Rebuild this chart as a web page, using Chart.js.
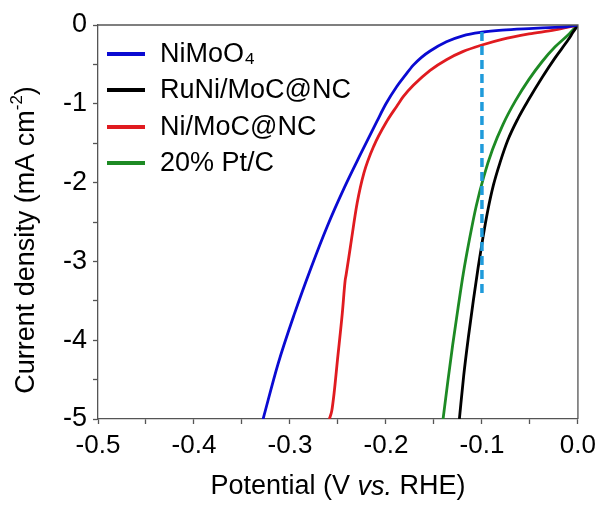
<!DOCTYPE html>
<html>
<head>
<meta charset="utf-8">
<script src="https://cdn.jsdelivr.net/npm/chart.js@4.4.1/dist/chart.umd.min.js"></script>
<style>
  html, body { margin: 0; padding: 0; background: #fff; }
  #wrap { width: 605px; height: 506px; }
</style>
</head>
<body>
<div id="wrap"><canvas id="lsv" width="605" height="506"></canvas></div>
<script>
const seriesNames = ['NiMoO₄', 'RuNi/MoC@NC', 'Ni/MoC@NC', '20% Pt/C'];
const seriesColors = ['#0a0ad2', '#000000', '#e01b20', '#1d8a24'];

// potential (V vs. RHE) and current density (mA cm-2)
const nimoo4Potential = [0, -0.012, -0.024, -0.051, -0.079, -0.100, -0.120, -0.137, -0.154, -0.163, -0.1715, -0.180, -0.1887, -0.200, -0.2093, -0.2265, -0.2436, -0.261, -0.278, -0.2952, -0.3124, -0.328];
const nimoo4Current   = [0, -0.022, -0.030, -0.045, -0.065, -0.092, -0.137, -0.213, -0.330, -0.410, -0.510, -0.640, -0.780, -1.000, -1.220, -1.640, -2.070, -2.550, -3.080, -3.660, -4.300, -5.000];

const runiPotential = [0, -0.005, -0.010, -0.024, -0.037, -0.051, -0.063, -0.073, -0.081, -0.088, -0.094, -0.099, -0.104, -0.109, -0.114, -0.119, -0.1235];
const runiCurrent   = [0, -0.090, -0.185, -0.420, -0.660, -0.940, -1.200, -1.460, -1.740, -2.030, -2.360, -2.700, -3.080, -3.500, -3.950, -4.450, -5.000];

const nimocPotential = [0, -0.024, -0.051, -0.079, -0.100, -0.120, -0.137, -0.154, -0.1715, -0.182, -0.1887, -0.199, -0.2128, -0.223, -0.230, -0.237, -0.2415, -0.2425, -0.2455, -0.2505, -0.254, -0.2565, -0.259];
const nimocCurrent   = [0, -0.063, -0.114, -0.182, -0.254, -0.338, -0.440, -0.575, -0.765, -0.910, -1.030, -1.220, -1.540, -1.880, -2.260, -2.810, -3.170, -3.240, -3.660, -4.250, -4.670, -4.900, -5.000];

const ptcPotential = [0, -0.005, -0.010, -0.024, -0.037, -0.051, -0.065, -0.078, -0.089, -0.098, -0.106, -0.113, -0.1195, -0.125, -0.1305, -0.1355, -0.1405];
const ptcCurrent   = [0, -0.060, -0.125, -0.280, -0.460, -0.690, -0.960, -1.260, -1.580, -1.920, -2.300, -2.720, -3.160, -3.600, -4.060, -4.520, -5.000];

const markerPotential = [-0.1, -0.1];
const markerCurrent   = [-0.09, -3.45];

const xTickLabels = [-0.5, -0.4, -0.3, -0.2, -0.1, 0.0];
const yTickLabels = [0, -1, -2, -3, -4, -5];

const FONT = '"Liberation Sans", Arial, sans-serif';
const axisColor = '#555555';

function toPoints(xs, ys) {
    return xs.map((x, i) => ({ x: x, y: ys[i] }));
}

const curves = [
    toPoints(nimoo4Potential, nimoo4Current),
    toPoints(runiPotential, runiCurrent),
    toPoints(nimocPotential, nimocCurrent),
    toPoints(ptcPotential, ptcCurrent)
];

const datasets = curves.map((pts, i) => ({
    label: seriesNames[i],
    data: pts,
    borderColor: seriesColors[i],
    borderWidth: 2.8,
    pointRadius: 0,
    cubicInterpolationMode: 'monotone',
    showLine: true,
    order: 1
}));

datasets.push({
    label: 'marker',
    data: toPoints(markerPotential, markerCurrent),
    borderColor: '#1f9bdb',
    borderWidth: 3.5,
    borderDash: [9, 5],
    pointRadius: 0,
    showLine: true,
    order: 0
});

// frame, legend and axis titles
const decorations = {
    id: 'decorations',
    afterDraw(chart) {
        const ctx = chart.ctx;
        const a = chart.chartArea;
        ctx.save();

        ctx.strokeStyle = axisColor;
        ctx.lineWidth = 1.3;
        ctx.beginPath();
        ctx.moveTo(a.left, a.top);
        ctx.lineTo(a.right, a.top);
        ctx.lineTo(a.right, a.bottom);
        ctx.stroke();

        // legend
        ctx.font = '27px ' + FONT;
        ctx.textBaseline = 'middle';
        ctx.fillStyle = '#000';
        const rows = [54, 90, 127, 163];
        for (let i = 0; i < 4; i++) {
            ctx.strokeStyle = seriesColors[i];
            ctx.lineWidth = 4;
            ctx.beginPath();
            ctx.moveTo(107, rows[i]);
            ctx.lineTo(145, rows[i]);
            ctx.stroke();
            ctx.fillText(seriesNames[i], 160, rows[i] + 1);
        }

        // x title with italic "vs."
        const parts = [['Potential (V ', ''], ['vs.', 'italic '], [' RHE)', '']];
        let total = 0;
        parts.forEach(p => { ctx.font = p[1] + '27px ' + FONT; total += ctx.measureText(p[0]).width; });
        let x = (a.left + a.right) / 2 - total / 2;
        ctx.textAlign = 'left';
        parts.forEach(p => {
            ctx.font = p[1] + '27px ' + FONT;
            ctx.fillText(p[0], x, 487);
            x += ctx.measureText(p[0]).width;
        });

        // y title with superscript
        ctx.translate(27, 240);
        ctx.rotate(-Math.PI / 2);
        const main = 'Current density (mA cm';
        ctx.font = '17px ' + FONT;
        const supW = ctx.measureText('-2').width;
        ctx.font = '27px ' + FONT;
        const w = ctx.measureText(main).width + supW + ctx.measureText(')').width;
        let yx = -w / 2;
        ctx.fillText(main, yx, 0);
        yx += ctx.measureText(main).width;
        ctx.font = '17px ' + FONT;
        ctx.fillText('-2', yx, -10);
        yx += supW;
        ctx.font = '27px ' + FONT;
        ctx.fillText(')', yx, 0);

        ctx.restore();
    }
};

new Chart(document.getElementById('lsv'), {
    type: 'scatter',
    data: { datasets: datasets },
    options: {
        responsive: false,
        animation: false,
        layout: { padding: { top: 25, right: 22, bottom: 0, left: 0 } },
        plugins: {
            legend: { display: false },
            tooltip: { enabled: false }
        },
        scales: {
            x: {
                type: 'linear',
                min: -0.5,
                max: 0,
                afterFit: function (scale) { scale.height = 87; },
                border: { color: axisColor, width: 1.3 },
                grid: { drawOnChartArea: false, drawTicks: true, tickLength: 5, tickColor: axisColor, tickWidth: 1.3 },
                ticks: {
                    stepSize: 0.05,
                    padding: 9,
                    color: '#000',
                    maxRotation: 0,
                    autoSkip: false,
                    font: { family: FONT, size: 26, lineHeight: 1 },
                    callback: function (value) {
                        const hit = xTickLabels.find(t => Math.abs(t - value) < 1e-6);
                        return hit === undefined ? '' : hit.toFixed(1);
                    }
                }
            },
            y: {
                type: 'linear',
                min: -5,
                max: 0,
                afterFit: function (scale) { scale.width = 98; },
                border: { color: axisColor, width: 1.3 },
                grid: { drawOnChartArea: false, drawTicks: true, tickLength: 5, tickColor: axisColor, tickWidth: 1.3 },
                ticks: {
                    stepSize: 0.5,
                    padding: 6,
                    color: '#000',
                    autoSkip: false,
                    font: { family: FONT, size: 27, lineHeight: 1 },
                    callback: function (value) {
                        const hit = yTickLabels.find(t => Math.abs(t - value) < 1e-6);
                        return hit === undefined ? '' : String(hit);
                    }
                }
            }
        }
    },
    plugins: [decorations]
});
</script>
</body>
</html>
